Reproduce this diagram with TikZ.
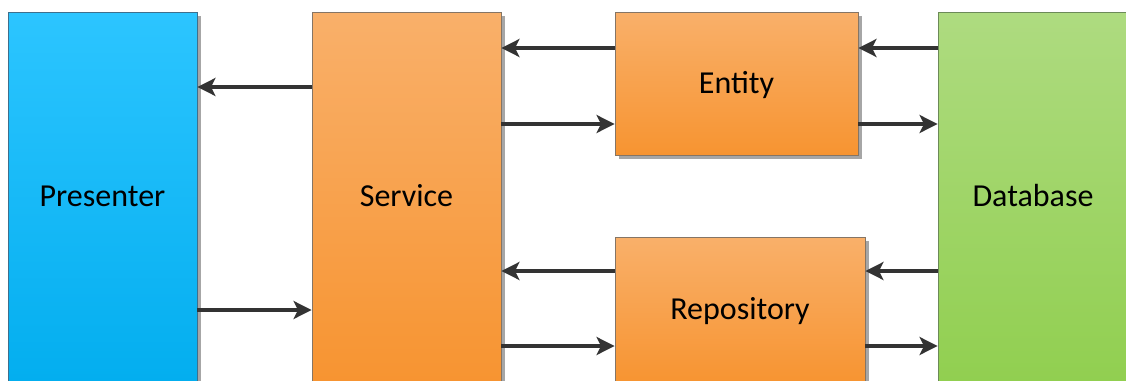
\documentclass[tikz,border=0pt]{standalone}
\usepackage{fontspec}
\setmainfont{Carlito}
\usetikzlibrary{arrows.meta,shadows}

\definecolor{bluetop}{HTML}{2CC5FF}
\definecolor{bluebot}{HTML}{03AEEF}
\definecolor{blueline}{HTML}{3F6F8C}
\definecolor{orangetop}{HTML}{F9B06A}
\definecolor{orangebot}{HTML}{F79431}
\definecolor{orangeline}{HTML}{857565}
\definecolor{greentop}{HTML}{AEDB80}
\definecolor{greenbot}{HTML}{91CF50}
\definecolor{greenline}{HTML}{6C8A58}
\definecolor{arrowgray}{HTML}{333333}

\tikzset{
  block/.style={rectangle, draw, line width=0.9pt, inner sep=0pt,
    font=\fontsize{32}{38}\selectfont, text=black,
    text height=24pt, text depth=5pt,
    drop shadow={shadow xshift=4pt, shadow yshift=-4pt, fill=black!35, opacity=1}},
  bluebox/.style={block, draw=blueline, top color=bluetop, bottom color=bluebot},
  orangebox/.style={block, draw=orangeline, top color=orangetop, bottom color=orangebot},
  greenbox/.style={block, draw=greenline, top color=greentop, bottom color=greenbot},
  arr/.style={draw=arrowgray, line width=3.3pt,
    -{Stealth[length=18pt, width=18pt, inset=4.5pt, fill=arrowgray]}}
}

\begin{document}
\begin{tikzpicture}[x=1pt, y=-1pt]
  \useasboundingbox (0,0) rectangle (1126,380);

  % layers
  \node[bluebox, minimum width=189pt, minimum height=370pt] (presenter) at (102.5,197) {Presenter};
  \node[orangebox, minimum width=189pt, minimum height=370pt] (service) at (406.5,197) {Service};
  \node[orangebox, minimum width=243pt, minimum height=143pt] (entity) at (736.5,83.5) {Entity};
  \node[orangebox, minimum width=250pt, minimum height=146pt] (repository) at (740,310) {Repository};
  \node[greenbox, minimum width=190pt, minimum height=370pt] (database) at (1033,197) {Database};

  % presenter <-> service
  \draw[arr] ([yshift=110pt]service.west) coordinate (s1) -- (s1 -| presenter.east);
  \draw[arr] ([yshift=-113pt]presenter.east) coordinate (p1) -- (p1 -| service.west);

  % service <-> entity
  \draw[arr] ([yshift=35.5pt]entity.west) coordinate (e1) -- (e1 -| service.east);
  \path ([yshift=-40.5pt]entity.west) coordinate (e2);
  \draw[arr] (e2 -| service.east) -- (e2);

  % entity <-> database
  \draw[arr] (e1 -| database.west) -- (e1 -| entity.east);
  \draw[arr] (e2 -| entity.east) -- (e2 -| database.west);

  % service <-> repository
  \draw[arr] ([yshift=39pt]repository.west) coordinate (r1) -- (r1 -| service.east);
  \path ([yshift=-36pt]repository.west) coordinate (r2);
  \draw[arr] (r2 -| service.east) -- (r2);

  % repository <-> database
  \draw[arr] (r1 -| database.west) -- (r1 -| repository.east);
  \draw[arr] (r2 -| repository.east) -- (r2 -| database.west);
\end{tikzpicture}
\end{document}
